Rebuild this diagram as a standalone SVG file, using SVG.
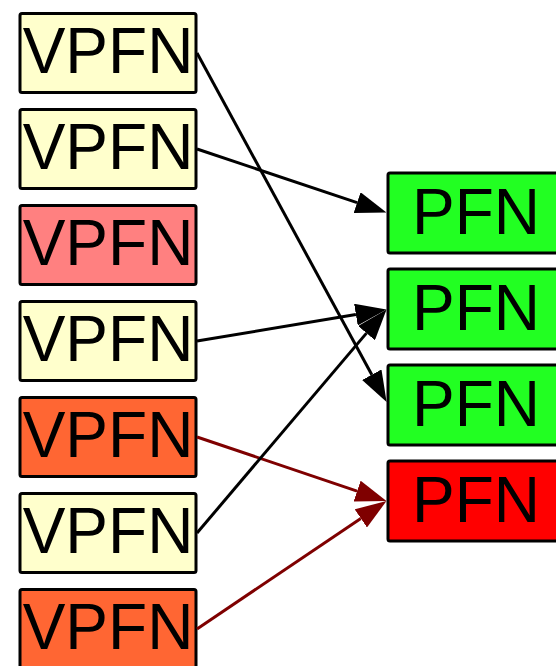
<svg xmlns="http://www.w3.org/2000/svg" width="556" height="666" viewBox="0 0 556 666">
<style>
.box{stroke:#000;stroke-width:3}
.lbl{font-family:"Liberation Sans",Arial,sans-serif;font-size:64px;text-anchor:middle;fill:#000}
.y{fill:#ffffcc}.s{fill:#ff8080}.o{fill:#ff6633}.g{fill:#22ff22}.r{fill:#ff0000}
.e{fill:none;stroke:#000;stroke-width:3}
.m{fill:none;stroke:#7f0000;stroke-width:3}
</style>
<defs>
<marker id="ab" viewBox="0 0 31 22" refX="0" refY="11" markerWidth="31" markerHeight="22" markerUnits="userSpaceOnUse" orient="auto"><path d="M0,0 L31,11 L0,22 z" fill="#000"/></marker>
<marker id="ar" viewBox="0 0 31 22" refX="0" refY="11" markerWidth="31" markerHeight="22" markerUnits="userSpaceOnUse" orient="auto"><path d="M0,0 L31,11 L0,22 z" fill="#7f0000"/></marker>
</defs>
<g id="v1"><rect class="box y" x="20" y="13.5" width="176" height="79" rx="2"/><text class="lbl" x="108" y="73">VPFN</text></g>
<g id="v2"><rect class="box y" x="20" y="109.5" width="176" height="79" rx="2"/><text class="lbl" x="108" y="169">VPFN</text></g>
<g id="v3"><rect class="box s" x="20" y="205.5" width="176" height="79" rx="2"/><text class="lbl" x="108" y="265">VPFN</text></g>
<g id="v4"><rect class="box y" x="20" y="301.5" width="176" height="79" rx="2"/><text class="lbl" x="108" y="361">VPFN</text></g>
<g id="v5"><rect class="box o" x="20" y="397.5" width="176" height="79" rx="2"/><text class="lbl" x="108" y="457">VPFN</text></g>
<g id="v6"><rect class="box y" x="20" y="493.5" width="176" height="79" rx="2"/><text class="lbl" x="108" y="553">VPFN</text></g>
<g id="v7"><rect class="box o" x="20" y="589.5" width="176" height="79" rx="2"/><text class="lbl" x="108" y="649">VPFN</text></g>
<g id="p1"><rect class="box g" x="388" y="173" width="176" height="80" rx="2"/><text class="lbl" x="476" y="234">PFN</text></g>
<g id="p2"><rect class="box g" x="388" y="269" width="176" height="80" rx="2"/><text class="lbl" x="476" y="330">PFN</text></g>
<g id="p3"><rect class="box g" x="388" y="365" width="176" height="80" rx="2"/><text class="lbl" x="476" y="426">PFN</text></g>
<g id="p4"><rect class="box r" x="388" y="461" width="176" height="80" rx="2"/><text class="lbl" x="476" y="522">PFN</text></g>
<g id="edges">
<path class="e" d="M197,53 L371.8,374.7" marker-end="url(#ab)"/>
<path class="e" d="M197,149 L357.1,202.7" marker-end="url(#ab)"/>
<path class="e" d="M197,341 L355.9,314.6" marker-end="url(#ab)"/>
<path class="m" d="M197,437 L357.1,491.1" marker-end="url(#ar)"/>
<path class="e" d="M197,533 L366.5,333.1" marker-end="url(#ab)"/>
<path class="m" d="M197,629 L360.8,518.4" marker-end="url(#ar)"/>
</g>
</svg>
